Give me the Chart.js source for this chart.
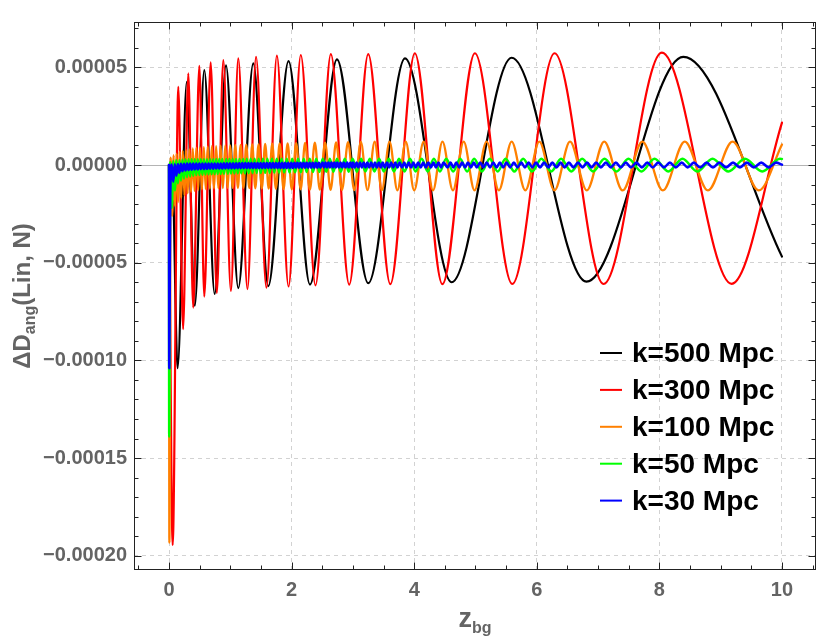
<!DOCTYPE html>
<html>
<head>
<meta charset="utf-8">
<title>Delta D_ang vs z_bg</title>
<script src="https://cdn.jsdelivr.net/npm/chart.js@4.4.1/dist/chart.umd.min.js"></script>
<style>
  html, body { margin: 0; padding: 0; background: #fff; }
  #wrap { width: 830px; height: 639px; }
</style>
</head>
<body>
<div id="wrap"><canvas id="chart" width="830" height="639"></canvas></div>
<script>
// values: extrema of each curve, y in units of 1e-5
const seriesLabels = ["k=500 Mpc", "k=300 Mpc", "k=100 Mpc", "k=50 Mpc", "k=30 Mpc"];
const xTicks = [0, 2, 4, 6, 8, 10];
const yTicks = [-20, -15, -10, -5, 0, 5];

const zBlack = [0, 0.05, 0.14, 0.29, 0.42, 0.576, 0.745, 0.93, 1.13, 1.375, 1.62, 1.95, 2.3, 2.74, 3.25, 3.85, 4.61, 5.59, 6.81, 8.39, 10];
const dBlack = [0, 0.1, -10.4, 4.26, -7.2, 4.86, -6.6, 5.1, -6.3, 5.2, -6.2, 5.32, -6.12, 5.41, -6.05, 5.46, -6.0, 5.49, -5.97, 5.54, -4.69];

const zRed = [0, 0.06, 0.152, 0.23, 0.315, 0.395, 0.495, 0.576, 0.68, 0.78, 0.886, 1.01, 1.13, 1.28, 1.42, 1.59, 1.76,
  1.95, 2.15, 2.39, 2.64, 2.94, 3.25, 3.61, 4.01, 4.46, 4.99, 5.6, 6.29, 7.09, 8.04, 9.18, 10];
const dRed = [0, -19.45, 4.0, -8.4, 4.69, -7.3, 5.07, -6.74, 5.26, -6.55, 5.37, -6.45, 5.46, -6.35, 5.54, -6.28, 5.6,
  -6.22, 5.63, -6.16, 5.68, -6.12, 5.68, -6.1, 5.72, -6.1, 5.72, -6.09, 5.72, -6.09, 5.75, -6.08, 2.17];

const zOrange = [0, 0.006,
  0.028, 0.052, 0.0755, 0.099, 0.124, 0.149, 0.174, 0.199, 0.225, 0.252,
  0.278, 0.304, 0.332, 0.36, 0.388, 0.417, 0.446, 0.476, 0.505, 0.537,
  0.568, 0.599, 0.632, 0.666, 0.699, 0.734, 0.769, 0.805, 0.842, 0.879,
  0.918, 0.957, 0.997, 1.039, 1.081, 1.124, 1.169, 1.214, 1.261, 1.309,
  1.358, 1.408, 1.461, 1.514, 1.569, 1.626, 1.684, 1.744, 1.805, 1.869,
  1.935, 2.003, 2.075, 2.148, 2.22, 2.298, 2.379, 2.461, 2.546, 2.636,
  2.726, 2.822, 2.921, 3.022, 3.13, 3.238, 3.355, 3.473, 3.598, 3.726,
  3.862, 4.0, 4.154, 4.307, 4.461, 4.632, 4.808, 4.984, 5.181, 5.381,
  5.59, 5.813, 6.041, 6.289, 6.542, 6.816, 7.1, 7.401, 7.722, 8.056,
  8.414, 8.793, 9.194, 9.62,
  10];
const dOrange = [0, -19.33,
  0.38, -2.6, 0.5, -2.1, 0.58, -1.9, 0.68, -1.68, 0.72, -1.55,
  0.76, -1.45, 0.8, -1.38, 0.85, -1.32, 0.88, -1.28, 0.9, -1.25,
  0.92, -1.23, 0.94, -1.21, 0.96, -1.2, 0.97, -1.19, 0.99, -1.18,
  1.0, -1.17, 1.01, -1.17, 1.02, -1.17, 1.03, -1.17, 1.04, -1.18,
  1.05, -1.19, 1.06, -1.2, 1.08, -1.21, 1.09, -1.22, 1.1, -1.23,
  1.11, -1.24, 1.12, -1.25, 1.13, -1.26, 1.14, -1.26, 1.15, -1.27,
  1.16, -1.27, 1.17, -1.28, 1.18, -1.28, 1.19, -1.29, 1.2, -1.3,
  1.2, -1.3, 1.2, -1.3, 1.2, -1.3, 1.2, -1.3, 1.2, -1.3,
  1.2, -1.3, 1.2, -1.3, 1.2, -1.3, 1.2, -1.3, 1.2, -1.3,
  1.2, -1.3, 1.2, -1.3,
  1.05];

const zGreen = [0, 0.003,
  0.02, 0.045, 0.07, 0.095, 0.12, 0.145, 0.17, 0.195, 0.22, 0.245,
  0.27, 0.295, 0.32, 0.345, 0.37, 0.395, 0.42, 0.445, 0.47, 0.495,
  0.52, 0.545, 0.57, 0.595, 0.62, 0.645, 0.67, 0.695, 0.72, 0.745,
  0.77, 0.795, 0.82, 0.845, 0.87, 0.895,
  0.934, 0.96, 0.985, 1.012, 1.039, 1.066, 1.093, 1.122, 1.15, 1.179,
  1.208, 1.239, 1.269, 1.3, 1.332, 1.364, 1.396, 1.43, 1.463, 1.497,
  1.533, 1.569, 1.605, 1.642, 1.68, 1.718, 1.758, 1.797, 1.838, 1.88,
  1.922, 1.966, 2.01, 2.057, 2.104, 2.151, 2.198, 2.244, 2.296, 2.349,
  2.402, 2.454, 2.508, 2.566, 2.624, 2.682, 2.74, 2.803, 2.867, 2.931,
  2.995, 3.064, 3.134, 3.204, 3.275, 3.352, 3.428, 3.504, 3.587, 3.67,
  3.752, 3.842, 3.931, 4.023, 4.122, 4.221, 4.321, 4.42, 4.522, 4.636,
  4.75, 4.864, 4.978, 5.104, 5.233, 5.362, 5.491, 5.634, 5.778, 5.923,
  6.075, 6.236, 6.396, 6.563, 6.741, 6.918, 7.105, 7.3, 7.495, 7.707,
  7.921, 8.145, 8.377, 8.617, 8.867, 9.126, 9.396, 9.678, 9.967,
  10];
const dGreen = [0, -13.9,
  0.14, -2.2, 0.2, -1.3, 0.24, -0.95, 0.26, -0.8, 0.28, -0.7,
  0.29, -0.63, 0.3, -0.59, 0.3, -0.56, 0.3, -0.53, 0.3, -0.51,
  0.3, -0.5, 0.3, -0.49, 0.3, -0.48, 0.3, -0.47, 0.3, -0.47,
  0.31, -0.46, 0.31, -0.46, 0.31, -0.45,
  0.31, -0.45, 0.31, -0.44, 0.31, -0.44, 0.31, -0.43, 0.31, -0.43,
  0.31, -0.43, 0.32, -0.42, 0.32, -0.42, 0.32, -0.41, 0.32, -0.41,
  0.32, -0.4, 0.32, -0.4, 0.32, -0.39, 0.32, -0.39, 0.32, -0.38,
  0.32, -0.38, 0.32, -0.37, 0.32, -0.37, 0.32, -0.36, 0.32, -0.36,
  0.32, -0.36, 0.32, -0.35, 0.32, -0.35, 0.32, -0.35, 0.32, -0.34,
  0.32, -0.34, 0.32, -0.33, 0.32, -0.33, 0.32, -0.33, 0.32, -0.33,
  0.32, -0.33, 0.32, -0.33, 0.32, -0.33, 0.32, -0.33, 0.32, -0.33,
  0.32, -0.33, 0.32, -0.33, 0.32, -0.33, 0.32, -0.33, 0.32, -0.33,
  0.32, -0.33, 0.32, -0.33, 0.32, -0.33, 0.32, -0.33, 0.32, -0.33,
  0.32, -0.33, 0.32, -0.33, 0.32, -0.33, 0.32, -0.33, 0.32,
  0.31];

const zBlue = [0, 0.004,
  0.02, 0.045, 0.07, 0.095, 0.12, 0.145, 0.17, 0.195, 0.22, 0.245,
  0.27, 0.295, 0.32, 0.345, 0.37, 0.395, 0.42, 0.445, 0.47, 0.495,
  0.52, 0.545, 0.57, 0.595, 0.62, 0.645, 0.67, 0.695, 0.72, 0.745,
  0.77, 0.795, 0.82, 0.845, 0.87, 0.895, 0.92, 0.945, 0.97, 0.995,
  1.02, 1.045, 1.07, 1.095, 1.12, 1.145, 1.17, 1.195, 1.22, 1.245,
  1.27, 1.295, 1.32, 1.345, 1.37, 1.395, 1.42, 1.445, 1.47, 1.495,
  1.52, 1.545, 1.57, 1.595, 1.62, 1.645, 1.67, 1.695, 1.72, 1.745,
  1.77, 1.795, 1.82, 1.845, 1.87, 1.895, 1.92, 1.945, 1.97, 1.995,
  2.02, 2.045, 2.07, 2.095, 2.12, 2.145, 2.17, 2.195, 2.22, 2.245,
  2.27, 2.295, 2.32, 2.345, 2.37, 2.395, 2.42, 2.445, 2.47,
  2.505, 2.529, 2.553, 2.577, 2.601, 2.625, 2.65, 2.674, 2.698, 2.722, 2.746,
  2.772, 2.799, 2.826, 2.852, 2.879, 2.906, 2.932, 2.959, 2.986,
  3.002, 3.031, 3.06, 3.089, 3.118, 3.147, 3.177, 3.206, 3.235,
  3.265, 3.297, 3.329, 3.36, 3.392, 3.424, 3.456, 3.487,
  3.521, 3.555, 3.59, 3.624, 3.658, 3.693, 3.727,
  3.763, 3.8, 3.837, 3.874, 3.911, 3.949, 3.986,
  4.024, 4.065, 4.107, 4.148, 4.189, 4.231, 4.272, 4.314, 4.355, 4.396, 4.438, 4.479,
  4.545, 4.592, 4.64, 4.687, 4.735, 4.782, 4.83, 4.877, 4.925, 4.972,
  5.022, 5.076, 5.129, 5.183, 5.237, 5.29, 5.344, 5.398, 5.452,
  5.506, 5.566, 5.626, 5.686, 5.747, 5.807, 5.867, 5.927, 5.987,
  6.053, 6.12, 6.187, 6.254, 6.321, 6.388, 6.454,
  6.524, 6.598, 6.672, 6.746, 6.82, 6.894, 6.968,
  7.046, 7.127, 7.208, 7.29, 7.371, 7.452,
  7.536, 7.625, 7.714, 7.803, 7.891, 7.98,
  8.075, 8.171, 8.268, 8.364, 8.461,
  8.562, 8.666, 8.77, 8.874, 8.978,
  9.089, 9.201, 9.314, 9.426,
  9.542, 9.662, 9.783, 9.904,
  10];
const dBlue = [0, -10.4,
  -1.6, 0.02, -0.85, 0.04, -0.55, 0.05, -0.4, 0.06, -0.32, 0.06,
  -0.28, 0.07, -0.26, 0.07, -0.24, 0.07, -0.23, 0.07, -0.22, 0.07,
  -0.21, 0.07, -0.21, 0.08, -0.2, 0.08, -0.19, 0.08, -0.19, 0.08,
  -0.18, 0.08, -0.18, 0.08, -0.18, 0.09, -0.17, 0.09, -0.17, 0.09,
  -0.17, 0.09, -0.17, 0.09, -0.16, 0.09, -0.16, 0.1, -0.16, 0.1,
  -0.16, 0.1, -0.16, 0.1, -0.16, 0.1, -0.16, 0.1, -0.16, 0.1,
  -0.16, 0.1, -0.15, 0.1, -0.15, 0.1, -0.15, 0.1, -0.15, 0.1,
  -0.15, 0.11, -0.15, 0.11, -0.15, 0.11, -0.15, 0.11, -0.15, 0.11,
  -0.15, 0.11, -0.14, 0.11, -0.14, 0.11, -0.14, 0.11, -0.14, 0.11,
  -0.14, 0.11, -0.14, 0.11, -0.14, 0.11, -0.14, 0.11, -0.14,
  0.12, -0.13, 0.12, -0.13, 0.12, -0.13, 0.12, -0.13, 0.12, -0.13,
  0.12, -0.13, 0.12, -0.13, 0.12, -0.13, 0.12, -0.13, 0.12, -0.13,
  0.12, -0.13, 0.12, -0.13, 0.12, -0.13, 0.12, -0.13, 0.12, -0.13,
  0.12, -0.13, 0.12, -0.13, 0.12, -0.13, 0.12, -0.13, 0.12, -0.13,
  0.12, -0.13, 0.12, -0.13, 0.12, -0.13, 0.12, -0.13, 0.12, -0.13,
  0.12,
  -0.12, 0.12, -0.12, 0.12, -0.12, 0.12, -0.12, 0.12, -0.12, 0.12,
  -0.12, 0.12, -0.12, 0.12, -0.12, 0.12, -0.12, 0.12, -0.12, 0.12,
  -0.12, 0.12, -0.12, 0.12, -0.12, 0.12, -0.12, 0.12, -0.12, 0.12,
  -0.12, 0.12, -0.12, 0.12, -0.12, 0.12, -0.12, 0.12, -0.12, 0.12,
  -0.12, 0.12, -0.12, 0.12, -0.12, 0.12, -0.12, 0.12, -0.12, 0.12,
  -0.12, 0.12, -0.12, 0.12, -0.12, 0.12, -0.12, 0.12, -0.12, 0.12,
  -0.12, 0.12, -0.12, 0.12, -0.12, 0.12, -0.12, 0.12, -0.12, 0.12,
  -0.12, 0.12, -0.12, 0.12, -0.12, 0.12, -0.12, 0.12, -0.12, 0.12,
  -0.12, 0.12, -0.12, 0.12,
  0.02];

// styles
const FONT = "'Liberation Sans', Arial, sans-serif";
const GRAY = "#646464";
const colors = ["#000000", "#ff0000", "#ff8000", "#00ff00", "#0000ff"];
const widths = [2.2, 2.2, 2.3, 2.5, 2.6];

const toPoints = (zs, ds) => zs.map((z, i) => ({ x: z, y: ds[i] }));
const curves = [
  toPoints(zBlack, dBlack),
  toPoints(zRed, dRed),
  toPoints(zOrange, dOrange),
  toPoints(zGreen, dGreen),
  toPoints(zBlue, dBlue),
];

const fmtY = (v) => {
  const s = (v * 1e-5).toFixed(5);
  return s.charAt(0) === "-" ? "\u2212" + s.slice(1) : s;
};

// white page, zero axis, frame and ticks
const framePlugin = {
  id: "frame",
  beforeDraw(chart) {
    const c = chart.ctx;
    c.save();
    c.fillStyle = "#ffffff";
    c.fillRect(0, 0, chart.width, chart.height);
    c.restore();
  },
  beforeDatasetsDraw(chart) {
    const { ctx: c, chartArea: a, scales } = chart;
    const y0 = Math.round(scales.y.getPixelForValue(0)) + 0.5;
    c.save();
    c.strokeStyle = "#b4b4b4";
    c.lineWidth = 1;
    c.beginPath();
    c.moveTo(a.left, y0);
    c.lineTo(a.right, y0);
    c.stroke();
    c.restore();
  },
  afterDatasetsDraw(chart) {
    const { ctx: c, chartArea: a, scales } = chart;
    const L = Math.round(a.left) + 0.5, R = Math.round(a.right) - 0.5;
    const T = Math.round(a.top) + 0.5, B = Math.round(a.bottom) - 0.5;
    c.save();
    c.strokeStyle = "#222222";
    c.lineWidth = 1;
    c.strokeRect(L, T, R - L, B - T);
    c.beginPath();
    for (let i = -1; i <= 21; i++) {
      const v = i * 0.5;
      const px = Math.round(scales.x.getPixelForValue(v)) + 0.5;
      if (px < L || px > R) continue;
      const len = xTicks.includes(v) ? 7 : 4;
      c.moveTo(px, B); c.lineTo(px, B - len);
      c.moveTo(px, T); c.lineTo(px, T + len);
    }
    for (let v = -20; v <= 7; v++) {
      const py = Math.round(scales.y.getPixelForValue(v)) + 0.5;
      if (py < T || py > B) continue;
      const len = v % 5 === 0 ? 7 : 4;
      c.moveTo(L, py); c.lineTo(L + len, py);
      c.moveTo(R, py); c.lineTo(R - len, py);
    }
    c.stroke();
    c.restore();
  },
};

// legend inside the plot, lower right
const legendPlugin = {
  id: "insideLegend",
  afterDraw(chart) {
    const c = chart.ctx;
    c.save();
    c.font = "bold 28px " + FONT;
    c.textBaseline = "alphabetic";
    chart.data.datasets.forEach((ds, i) => {
      const y = 353 + i * 36.9;
      c.strokeStyle = ds.borderColor;
      c.lineWidth = 2;
      c.beginPath();
      c.moveTo(600, y);
      c.lineTo(622, y);
      c.stroke();
      c.fillStyle = "#000000";
      c.fillText(ds.label, 632, y + 9);
    });
    c.restore();
  },
};

// axis titles with subscripts
const titlesPlugin = {
  id: "axisTitles",
  afterDraw(chart) {
    const { ctx: c, chartArea: a } = chart;
    c.save();
    c.fillStyle = GRAY;
    c.textBaseline = "alphabetic";

    const big = "bold 27px " + FONT, small = "bold 16px " + FONT;
    c.font = big;
    const wz = c.measureText("z").width;
    c.font = small;
    const wb = c.measureText("bg").width;
    const sx = (a.left + a.right) / 2 - (wz + wb) / 2;
    c.font = big;
    c.fillText("z", sx, 627);
    c.font = small;
    c.fillText("bg", sx + wz, 633);

    const f1 = "bold 24px " + FONT, f2 = "bold 16px " + FONT;
    c.font = f1;
    const w1 = c.measureText("\u0394D").width;
    const w3 = c.measureText("(Lin, N)").width;
    c.font = f2;
    const w2 = c.measureText("ang").width;
    const total = w1 + w2 + w3;
    c.translate(30, (a.top + a.bottom) / 2);
    c.rotate(-Math.PI / 2);
    let x = -total / 2;
    c.font = f1;
    c.fillText("\u0394D", x, 0);
    x += w1;
    c.font = f2;
    c.fillText("ang", x, 5);
    x += w2;
    c.font = f1;
    c.fillText("(Lin, N)", x, 0);
    c.restore();
  },
};

const chart = document.querySelector("#chart").getContext("2d");

new Chart(chart, {
  type: "line",
  data: {
    datasets: curves.map((pts, i) => ({
      label: seriesLabels[i],
      data: pts,
      borderColor: colors[i],
      backgroundColor: colors[i],
      borderWidth: widths[i],
      pointRadius: 0,
      fill: false,
      cubicInterpolationMode: "monotone",
      borderJoinStyle: "round",
      borderCapStyle: "round",
      order: 5 - i,
    })),
  },
  options: {
    responsive: false,
    animation: false,
    events: [],
    parsing: false,
    normalized: true,
    layout: { padding: { left: 0, right: 14, top: 22, bottom: 0 } },
    plugins: {
      legend: { display: false },
      tooltip: { enabled: false },
      title: { display: false },
    },
    scales: {
      x: {
        type: "linear",
        min: -0.571,
        max: 10.555,
        afterBuildTicks: (s) => { s.ticks = xTicks.map((v) => ({ value: v })); },
        afterFit: (s) => { s.height = 69; },
        ticks: {
          color: GRAY,
          font: { family: FONT, size: 20, weight: "bold" },
          padding: 8,
          autoSkip: false,
          maxRotation: 0,
          callback: (v) => String(v),
        },
        grid: { color: "#d2d2d2", lineWidth: 1, drawTicks: false, tickLength: 0 },
        border: { display: false, dash: [4, 4] },
      },
      y: {
        type: "linear",
        min: -20.73,
        max: 7.32,
        afterBuildTicks: (s) => { s.ticks = yTicks.map((v) => ({ value: v })); },
        afterFit: (s) => { s.width = 134; },
        ticks: {
          color: GRAY,
          font: { family: FONT, size: 20, weight: "bold" },
          padding: 7,
          autoSkip: false,
          callback: (v) => fmtY(v),
        },
        grid: { color: "#d2d2d2", lineWidth: 1, drawTicks: false, tickLength: 0 },
        border: { display: false, dash: [4, 4] },
      },
    },
  },
  plugins: [framePlugin, legendPlugin, titlesPlugin],
});
</script>
</body>
</html>
